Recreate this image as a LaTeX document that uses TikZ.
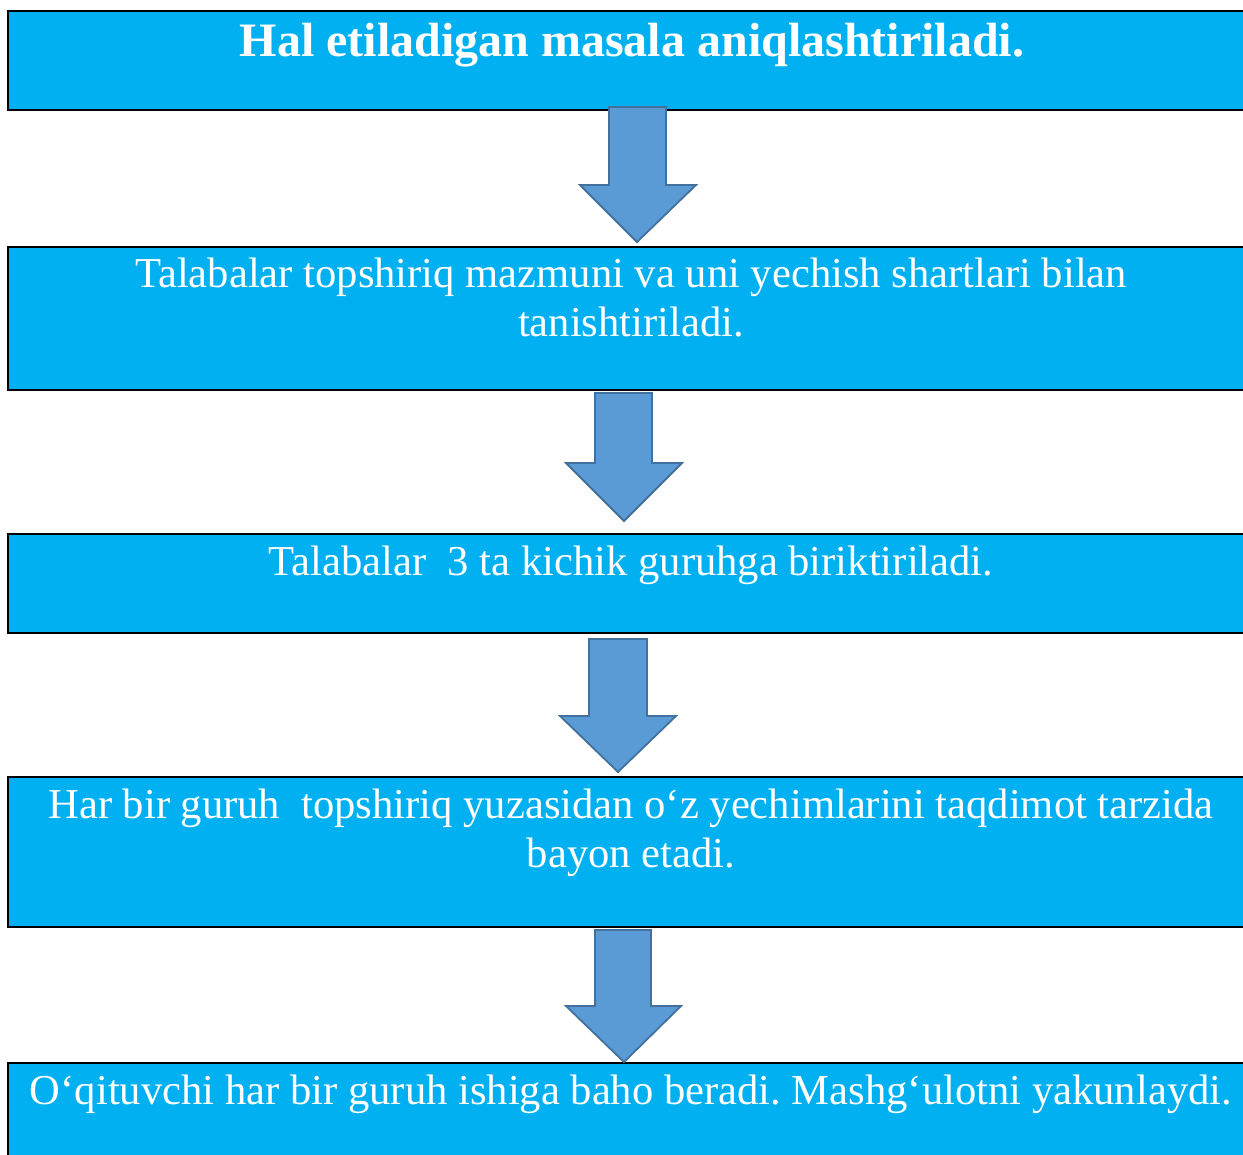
\documentclass[tikz,border=0pt]{standalone}
\usepackage{fontspec}
\setmainfont{Liberation Serif}
\definecolor{boxblue}{HTML}{00B0F0}
\definecolor{arrowfill}{HTML}{5B9BD5}
\definecolor{arrowline}{HTML}{41719C}
\frenchspacing
\begin{document}
\begin{tikzpicture}[x=1pt,y=-1pt,
  stagebox/.style={draw=black, line width=2.8pt, fill=boxblue, rectangle, anchor=north west, outer sep=0pt, inner sep=0pt, minimum width=1252pt},
  stagetext/.style={text=white, font=\fontsize{42.6}{49}\selectfont, align=center, anchor=base, inner sep=0pt},
  titletext/.style={stagetext, font=\fontsize{48}{55}\selectfont\bfseries},
  blockarrow/.style={draw=arrowline, line width=1.8pt, fill=arrowfill, line join=miter}]
\useasboundingbox (0,0) rectangle (1243,1155);
\fill[white] (0,0) rectangle (1243,1155);
% boxes
\node[stagebox, minimum height=99pt]  (b1) at (8,11) {};
\node[stagebox, minimum height=143pt] (b2) at (8,247) {};
\node[stagebox, minimum height=99pt]  (b3) at (8,534) {};
\node[stagebox, minimum height=150pt] (b4) at (8,777) {};
\node[stagebox, minimum height=140pt] (b5) at (8,1063) {};
% texts
\node[titletext] (t1) at (632,57) {Hal etiladigan masala aniqlashtiriladi.};
\node[stagetext] (t2) at (631,337) {Talabalar topshiriq mazmuni va uni yechish shartlari bilan\\tanishtiriladi.};
\node[stagetext] (t3) at (631,575) {Talabalar\ \ 3 ta kichik guruhga biriktiriladi.};
\node[stagetext] (t4) at (631,867) {Har bir guruh\ \ topshiriq yuzasidan o‘z yechimlarini taqdimot tarzida\\bayon etadi.};
\node[stagetext] (t5) at (631,1104) {O‘qituvchi har bir guruh ishiga baho beradi. Mashg‘ulotni yakunlaydi.};
% block arrows
\path[blockarrow] (609,107) -- (666,107) -- (666,185) -- (696,185) -- (637,242) -- (580,185) -- (609,185) -- cycle;
\path[blockarrow] (595,393) -- (652,393) -- (652,463) -- (682,463) -- (624,521) -- (566,463) -- (595,463) -- cycle;
\path[blockarrow] (589,639) -- (647,639) -- (647,716) -- (676,716) -- (618,772) -- (560,716) -- (589,716) -- cycle;
\path[blockarrow] (595,930) -- (651,930) -- (651,1006) -- (681,1006) -- (624,1062) -- (566,1006) -- (595,1006) -- cycle;
\end{tikzpicture}
\end{document}
